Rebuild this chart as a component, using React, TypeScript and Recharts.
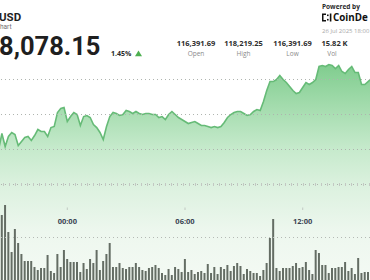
import React from "react";
import { ComposedChart, Area, Bar, XAxis, YAxis, ReferenceLine } from "recharts";

const times: string[] = [
  "20:30", "20:40", "20:50",
  "21:00", "21:10", "21:20", "21:30", "21:40", "21:50",
  "22:00", "22:10", "22:20", "22:30", "22:40", "22:50",
  "23:00", "23:10", "23:20", "23:30", "23:40", "23:50",
  "00:00", "00:10", "00:20", "00:30", "00:40", "00:50",
  "01:00", "01:10", "01:20", "01:30", "01:40", "01:50",
  "02:00", "02:10", "02:20", "02:30", "02:40", "02:50",
  "03:00", "03:10", "03:20", "03:30", "03:40", "03:50",
  "04:00", "04:10", "04:20", "04:30", "04:40", "04:50",
  "05:00", "05:10", "05:20", "05:30", "05:40", "05:50",
  "06:00", "06:10", "06:20", "06:30", "06:40", "06:50",
  "07:00", "07:10", "07:20", "07:30", "07:40", "07:50",
  "08:00", "08:10", "08:20", "08:30", "08:40", "08:50",
  "09:00", "09:10", "09:20", "09:30", "09:40", "09:50",
  "10:00", "10:10", "10:20", "10:30", "10:40", "10:50",
  "11:00", "11:10", "11:20", "11:30", "11:40", "11:50",
  "12:00", "12:10", "12:20", "12:30", "12:40", "12:50",
  "13:00", "13:10", "13:20", "13:30", "13:40", "13:50",
  "14:00", "14:10", "14:20", "14:30", "14:40", "14:50",
  "15:00", "15:10", "15:20", "15:30",
];

const prices: number[] = [
  117000, 117229, 117043, 117186, 117243, 117214, 117057, 117114, 117171, 117186,
  117129, 117200, 117286, 117257, 117257, 117186, 117314, 117329, 117529, 117586,
  117600, 117400, 117471, 117529, 117500, 117343, 117471, 117486, 117457, 117357,
  117314, 117243, 117143, 117329, 117471, 117529, 117514, 117486, 117500, 117557,
  117543, 117514, 117543, 117514, 117500, 117514, 117514, 117500, 117500, 117457,
  117471, 117429, 117500, 117543, 117500, 117457, 117429, 117400, 117371, 117386,
  117400, 117371, 117343, 117343, 117329, 117314, 117329, 117314, 117329, 117386,
  117457, 117500, 117529, 117543, 117543, 117514, 117486, 117500, 117543, 117571,
  117557, 117686, 117843, 117971, 117971, 118000, 118057, 118000, 117957, 117900,
  117843, 117800, 117814, 117886, 117957, 117929, 117957, 118000, 118186, 118200,
  118186, 118214, 118200, 118157, 118200, 118114, 118086, 118143, 118186, 118100,
  118100, 117929, 117929, 117971, 118014,
];

const volumes: number[] = [
  248, 268, 308, 200, 120, 212, 156, 112, 84, 84,
  84, 60, 48, 56, 56, 108, 44, 36, 112, 60,
  128, 92, 80, 80, 80, 40, 76, 52, 92, 76,
  128, 48, 84, 112, 156, 60, 60, 76, 56, 52,
  60, 60, 76, 60, 48, 44, 56, 60, 68, 56,
  36, 28, 52, 28, 60, 52, 40, 92, 40, 48,
  32, 40, 44, 36, 72, 36, 60, 32, 60, 52,
  68, 44, 64, 76, 64, 32, 52, 44, 36, 36,
  24, 48, 76, 176, 252, 56, 44, 56, 56, 56,
  64, 76, 56, 60, 80, 48, 32, 128, 116, 68,
  68, 36, 56, 56, 60, 60, 80, 44, 56, 32,
  96, 36, 40, 40, 40,
];

const timeTicks: string[] = ["00:00", "06:00", "12:00"];
const gridPrices: number[] = [118000, 117500, 117000];
const axisPrice = 116500;
const volumeGrid = 178;
const priceDomain: [number, number] = [115107, 118279];
const volumeDomain: [number, number] = [0, 888];

const statValues: string[] = ["116,391.69", "118,219.25", "116,391.69", "15.82 K"];
const statLabels: string[] = ["Open", "High", "Low", "Vol"];

const data = times.map((t, i) => ({ t, price: prices[i], vol: volumes[i] }));

const FONT = "'Open Sans', 'Noto Sans', sans-serif";
const HEAD_FONT = "Roboto, 'Open Sans', sans-serif";

function TimeTick(props: any) {
  const { x, payload } = props;
  return (
    <g>
      <line x1={x} x2={x} y1={207.5} y2={210} stroke="#b9beb9" strokeWidth={0.8} />
      <text
        x={x}
        y={223.5}
        textAnchor="middle"
        fontFamily={FONT}
        fontSize={7.5}
        fontWeight={700}
        fill="#3b4452"
      >
        {payload.value}
      </text>
    </g>
  );
}

const valueX = [196, 243.5, 292.5, 334.5];
const labelX = [196, 243.5, 292.5, 332];

export default function App() {
  return (
    <div
      style={{
        position: "fixed",
        left: 0,
        top: 0,
        width: 370,
        height: 280,
        overflow: "hidden",
        background: "#ffffff",
      }}
    >
      <div style={{ position: "absolute", left: -3, top: 0 }}>
        <ComposedChart
          width={376}
          height={290}
          data={data}
          margin={{ top: 60, right: 0, bottom: 7, left: 0 }}
          barCategoryGap="16%"
        >
          <defs>
            <linearGradient id="priceFill" gradientUnits="userSpaceOnUse" x1="0" y1="60" x2="0" y2="282">
              <stop offset="0" stopColor="#7ccb8b" />
              <stop offset="0.2" stopColor="#a2dbac" />
              <stop offset="0.4" stopColor="#c6eacc" />
              <stop offset="0.57" stopColor="#dcf1df" />
              <stop offset="0.77" stopColor="#edf7ee" />
              <stop offset="1" stopColor="#f4faf4" />
            </linearGradient>
          </defs>
          <YAxis yAxisId="p" width={0} tick={false} axisLine={false} tickLine={false} domain={priceDomain} allowDataOverflow />
          <YAxis yAxisId="v" width={0} tick={false} axisLine={false} tickLine={false} domain={volumeDomain} allowDataOverflow />
          <Area
            yAxisId="p"
            type="linear"
            dataKey="price"
            stroke="#66bb77"
            strokeWidth={1.6}
            fill="url(#priceFill)"
            fillOpacity={1}
            dot={false}
            activeDot={false}
            isAnimationActive={false}
          />
          {gridPrices.map((p) => (
            <ReferenceLine
              key={p}
              yAxisId="p"
              y={p}
              ifOverflow="visible"
              stroke="#aeb3ae"
              strokeWidth={1}
              strokeDasharray="1 3"
            />
          ))}
          <ReferenceLine yAxisId="p" y={axisPrice} ifOverflow="visible" stroke="#aeb3ae" strokeWidth={1} strokeDasharray="1 3" />
          <ReferenceLine yAxisId="p" y={axisPrice} ifOverflow="visible" stroke="#c2c7c2" strokeWidth={3} strokeDasharray="1 5" />
          <ReferenceLine yAxisId="v" y={volumeGrid} ifOverflow="visible" stroke="#b4b9b4" strokeWidth={1} strokeDasharray="1 3" />
          <Bar yAxisId="v" dataKey="vol" fill="#646d64" isAnimationActive={false} />
          <XAxis
            dataKey="t"
            ticks={timeTicks}
            interval={0}
            height={1}
            axisLine={false}
            tickLine={false}
            tick={TimeTick}
          />
        </ComposedChart>
      </div>
      <svg
        width={370}
        height={280}
        style={{ position: "absolute", left: 0, top: 0, pointerEvents: "none" }}
        fontFamily={FONT}
      >
        <text x={-1} y={20.5} fontFamily={HEAD_FONT} fontSize={11.5} fontWeight={700} fill="#1f1f1f">USD</text>
        <text x={0} y={29.3} fontFamily={HEAD_FONT} fontSize={6.5} fill="#707070">hart</text>
        <text x={-1} y={55} fontFamily={HEAD_FONT} fontSize={25.5} fontWeight={700} fill="#1f1f1f">8,078.15</text>
        <text x={111} y={56} fontSize={7} fontWeight={700} fill="#2a2a2a">1.45%</text>
        <path d="M135 56.3 L142 56.3 L138.5 50.6 Z" fill="#4caf50" />
        {statValues.map((v, i) => (
          <text key={"v" + i} x={valueX[i]} y={45.7} textAnchor="middle" fontSize={7.5} fontWeight={700} fill="#2d2d2d">
            {v}
          </text>
        ))}
        {statLabels.map((l, i) => (
          <text key={"l" + i} x={labelX[i]} y={56} textAnchor="middle" fontSize={6.5} fill="#8a8a8a">
            {l}
          </text>
        ))}
        <text x={322} y={8.5} fontSize={6.5} fontWeight={700} fill="#2a2a2a">Powered by</text>
        <path d="M322 13.5 h4 v1.5 h-2.5 v5 h2.5 v1.5 h-4 z" fill="#111" />
        <rect x={327} y={14.5} width={1.6} height={1.6} fill="#111" />
        <rect x={327} y={18.9} width={1.6} height={1.6} fill="#111" />
        <rect x={329.8} y={13.5} width={1.6} height={8} fill="#111" />
        <text x={333} y={21.3} fontSize={9.8} fontWeight={700} fill="#111">CoinDe</text>
        <text x={322} y={32.5} fontSize={6} fill="#a8a8a8">26 Jul 2025 18:00</text>
      </svg>
    </div>
  );
}
